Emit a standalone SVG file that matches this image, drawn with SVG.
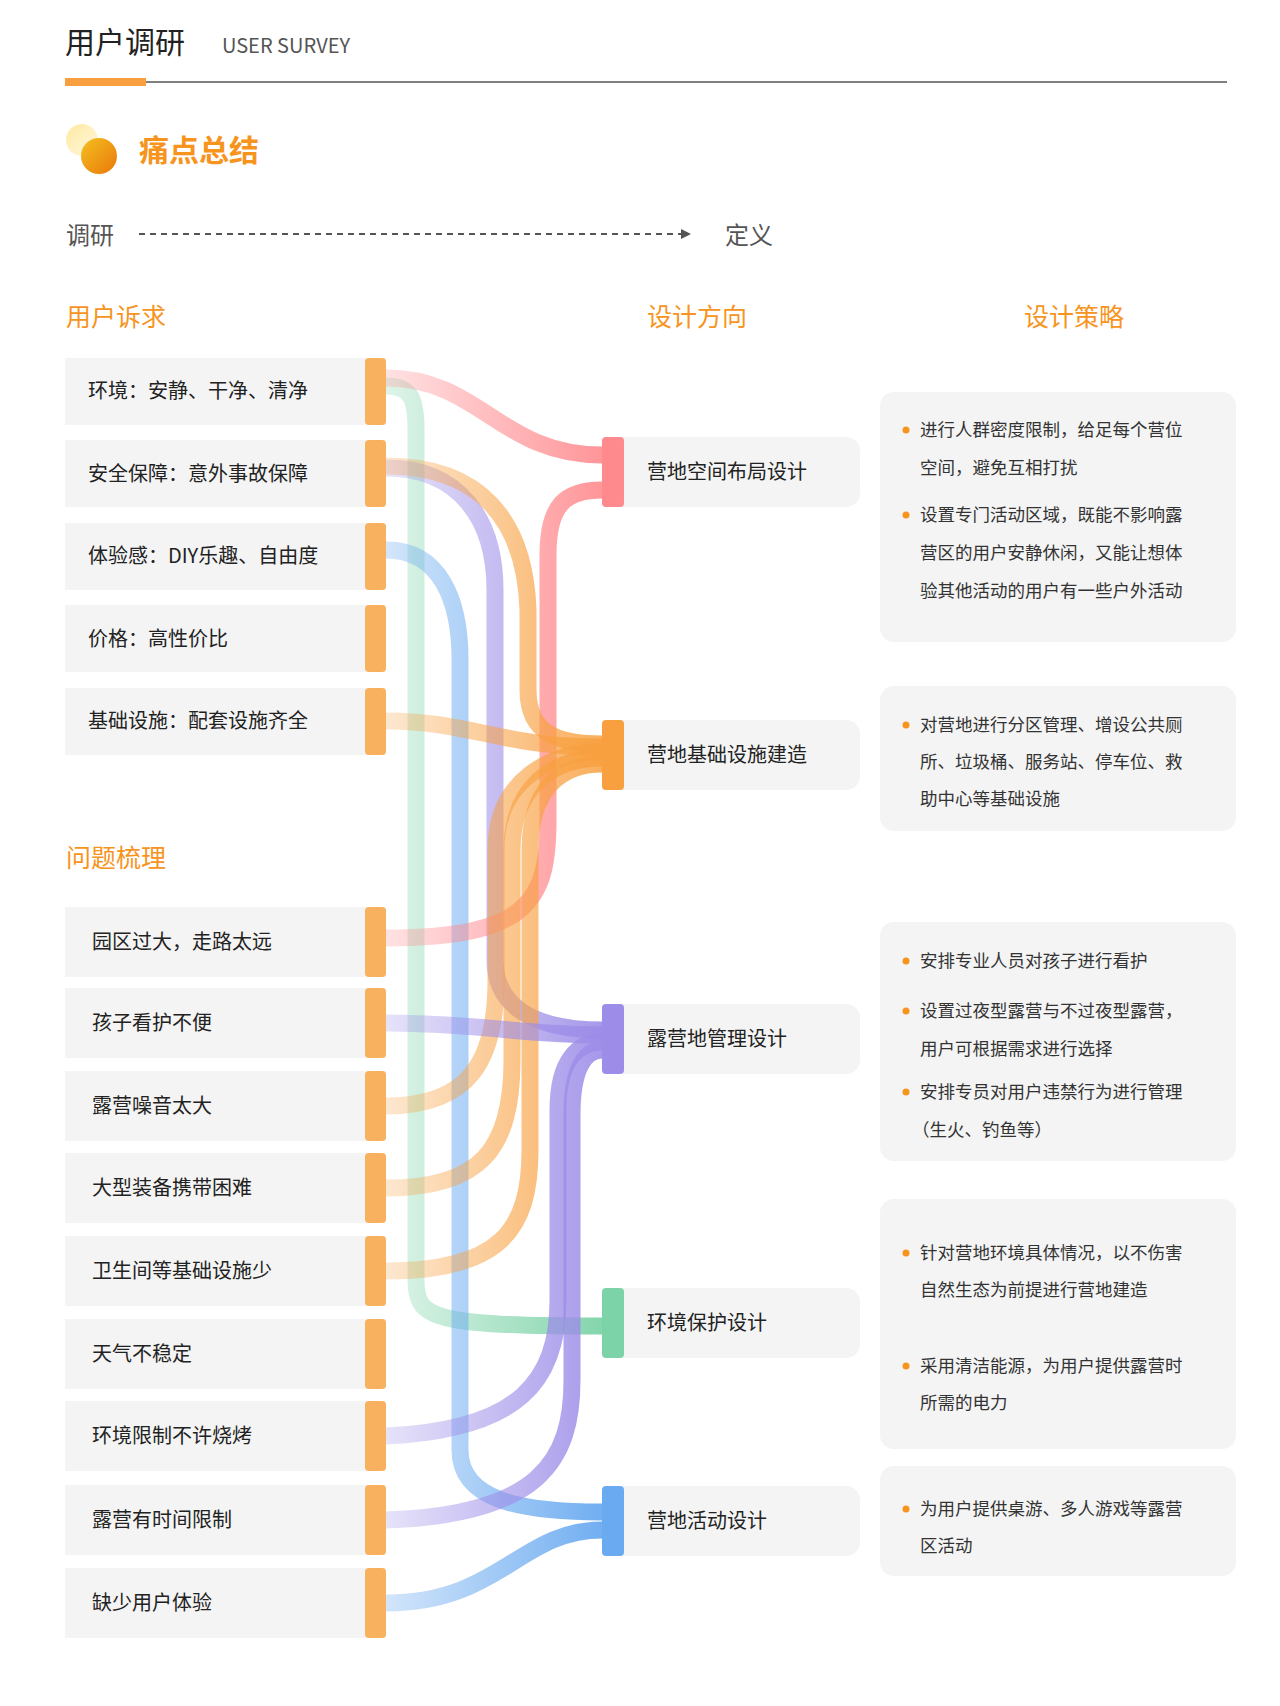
<svg xmlns="http://www.w3.org/2000/svg" width="1280" height="1706" viewBox="0 0 1280 1706">
<style>
text{font-family:"Noto Sans CJK SC","Liberation Sans",sans-serif}
.lb{fill:#f4f4f4}
.tab{fill:#F8B15E}
.lt{font-size:20px;fill:#222}
.mt{font-size:20px;fill:#222}
.st{font-size:17.5px;fill:#333}
.hd{font-size:25px;fill:#F7941D}
.dot{fill:#F7941D}
.c{fill:none;stroke-width:17;stroke-linecap:butt}
</style>
<defs>
<linearGradient id="gp" gradientUnits="userSpaceOnUse" x1="386" y1="0" x2="602" y2="0"><stop offset="0" stop-color="#FF8A8E" stop-opacity="0.25"/><stop offset="1" stop-color="#FF8A8E" stop-opacity="0.9"/></linearGradient>
<linearGradient id="go" gradientUnits="userSpaceOnUse" x1="386" y1="0" x2="602" y2="0"><stop offset="0" stop-color="#F8A040" stop-opacity="0.25"/><stop offset="1" stop-color="#F8A040" stop-opacity="0.85"/></linearGradient>
<linearGradient id="gu" gradientUnits="userSpaceOnUse" x1="386" y1="0" x2="602" y2="0"><stop offset="0" stop-color="#9D8DE8" stop-opacity="0.25"/><stop offset="1" stop-color="#9D8DE8" stop-opacity="0.9"/></linearGradient>
<linearGradient id="gg" gradientUnits="userSpaceOnUse" x1="386" y1="0" x2="602" y2="0"><stop offset="0" stop-color="#7DD3A8" stop-opacity="0.25"/><stop offset="1" stop-color="#7DD3A8" stop-opacity="0.95"/></linearGradient>
<linearGradient id="gb" gradientUnits="userSpaceOnUse" x1="386" y1="0" x2="602" y2="0"><stop offset="0" stop-color="#6AAAF0" stop-opacity="0.3"/><stop offset="1" stop-color="#6AAAF0" stop-opacity="0.95"/></linearGradient>
<linearGradient id="ic1" x1="0" y1="0" x2="1" y2="1"><stop offset="0" stop-color="#FFE9A0"/><stop offset="1" stop-color="#FFF8E0"/></linearGradient>
<linearGradient id="ic2" x1="0" y1="0" x2="1" y2="1"><stop offset="0" stop-color="#F6C020"/><stop offset="1" stop-color="#E8780A"/></linearGradient>
<marker id="ar" markerWidth="10" markerHeight="10" refX="5" refY="5" orient="auto" markerUnits="userSpaceOnUse"><path d="M0,0 L10,5 L0,10 Z" fill="#555"/></marker>
</defs>
<rect width="1280" height="1706" fill="#fff"/>
<g id="header">
<text x="65" y="53" font-size="30" fill="#222">用户调研</text>
<text x="222" y="53" font-size="20" fill="#555" font-family="Liberation Sans,sans-serif">USER SURVEY</text>
<line x1="65" y1="82" x2="1227" y2="82" stroke="#555" stroke-width="1.5"/>
<rect x="65" y="78" width="81" height="8" fill="#F8A040"/>
<circle cx="82" cy="140" r="16" fill="url(#ic1)"/>
<circle cx="99" cy="156" r="18" fill="url(#ic2)"/>
<text x="139" y="161" font-size="30" fill="#F7941D" font-weight="bold">痛点总结</text>
<text x="66" y="244" font-size="24" fill="#555">调研</text>
<line x1="139" y1="234" x2="686" y2="234" stroke="#555" stroke-width="2" stroke-dasharray="6,5" marker-end="url(#ar)"/>
<text x="725" y="244" font-size="24" fill="#555">定义</text>
<text class="hd" x="66" y="326">用户诉求</text>
<text class="hd" x="647" y="326">设计方向</text>
<text class="hd" x="1024" y="326">设计策略</text>
<text class="hd" x="66" y="867">问题梳理</text>
</g>
<g id="connectors">
<path class="c" stroke="url(#gg)" d="M386,386 C412,386 416,400 416,430 L416,1280 C416,1318 430,1326 602,1326"/>
<path class="c" stroke="url(#gb)" d="M386,550 C440,550 460,600 460,660 L460,1450 C460,1500 520,1512 602,1512"/>
<path class="c" stroke="url(#gu)" d="M386,468 C460,468 495,520 495,590 L495,960 C495,1010 540,1030 602,1030"/>
<path class="c" stroke="url(#gp)" d="M386,378 C480,378 500,455 602,455"/>
<path class="c" stroke="url(#gp)" d="M386,938 C530,938 548,900 548,820 L548,555 C548,505 565,490 602,490"/>
<path class="c" stroke="url(#go)" d="M386,466 C480,466 525,520 528,610 L528,690 C528,735 560,744 602,744"/>
<path class="c" stroke="url(#go)" d="M386,721 C470,721 500,747 602,747"/>
<path class="c" stroke="url(#go)" d="M386,1106 C470,1106 496,1060 496,980 L496,850 C496,780 550,752 602,752"/>
<path class="c" stroke="url(#go)" d="M386,1188 C480,1188 512,1150 512,1060 L512,850 C512,785 555,758 602,758"/>
<path class="c" stroke="url(#go)" d="M386,1271 C500,1271 530,1230 530,1150 L530,850 C530,790 560,764 602,764"/>
<path class="c" stroke="url(#gu)" d="M386,1023 C480,1023 520,1035 602,1035"/>
<path class="c" stroke="url(#gu)" d="M386,1436 C520,1430 558,1380 558,1300 L558,1110 C558,1060 578,1042 602,1042"/>
<path class="c" stroke="url(#gu)" d="M386,1520 C540,1515 572,1460 572,1380 L572,1115 C572,1068 585,1050 602,1050"/>
<path class="c" stroke="url(#gb)" d="M386,1603 C500,1603 520,1530 602,1530"/>
</g>
<g id="l1"><rect class="lb" x="65" y="358" width="321" height="67"/><rect class="tab" x="365" y="358" width="21" height="67" rx="4"/><text class="lt" x="88" y="398">环境：安静、干净、清净</text></g>
<g id="l2"><rect class="lb" x="65" y="440" width="321" height="67"/><rect class="tab" x="365" y="440" width="21" height="67" rx="4"/><text class="lt" x="88" y="481">安全保障：意外事故保障</text></g>
<g id="l3"><rect class="lb" x="65" y="523" width="321" height="67"/><rect class="tab" x="365" y="523" width="21" height="67" rx="4"/><text class="lt" x="88" y="563">体验感：DIY乐趣、自由度</text></g>
<g id="l4"><rect class="lb" x="65" y="605" width="321" height="67"/><rect class="tab" x="365" y="605" width="21" height="67" rx="4"/><text class="lt" x="88" y="646">价格：高性价比</text></g>
<g id="l5"><rect class="lb" x="65" y="688" width="321" height="67"/><rect class="tab" x="365" y="688" width="21" height="67" rx="4"/><text class="lt" x="88" y="728">基础设施：配套设施齐全</text></g>
<g id="p1"><rect class="lb" x="65" y="907" width="321" height="70"/><rect class="tab" x="365" y="907" width="21" height="70" rx="4"/><text class="lt" x="92" y="949">园区过大，走路太远</text></g>
<g id="p2"><rect class="lb" x="65" y="988" width="321" height="70"/><rect class="tab" x="365" y="988" width="21" height="70" rx="4"/><text class="lt" x="92" y="1030">孩子看护不便</text></g>
<g id="p3"><rect class="lb" x="65" y="1071" width="321" height="70"/><rect class="tab" x="365" y="1071" width="21" height="70" rx="4"/><text class="lt" x="92" y="1113">露营噪音太大</text></g>
<g id="p4"><rect class="lb" x="65" y="1153" width="321" height="70"/><rect class="tab" x="365" y="1153" width="21" height="70" rx="4"/><text class="lt" x="92" y="1195">大型装备携带困难</text></g>
<g id="p5"><rect class="lb" x="65" y="1236" width="321" height="70"/><rect class="tab" x="365" y="1236" width="21" height="70" rx="4"/><text class="lt" x="92" y="1278">卫生间等基础设施少</text></g>
<g id="p6"><rect class="lb" x="65" y="1319" width="321" height="70"/><rect class="tab" x="365" y="1319" width="21" height="70" rx="4"/><text class="lt" x="92" y="1361">天气不稳定</text></g>
<g id="p7"><rect class="lb" x="65" y="1401" width="321" height="70"/><rect class="tab" x="365" y="1401" width="21" height="70" rx="4"/><text class="lt" x="92" y="1443">环境限制不许烧烤</text></g>
<g id="p8"><rect class="lb" x="65" y="1485" width="321" height="70"/><rect class="tab" x="365" y="1485" width="21" height="70" rx="4"/><text class="lt" x="92" y="1527">露营有时间限制</text></g>
<g id="p9"><rect class="lb" x="65" y="1568" width="321" height="70"/><rect class="tab" x="365" y="1568" width="21" height="70" rx="4"/><text class="lt" x="92" y="1610">缺少用户体验</text></g>
<g id="m1"><rect class="lb" x="602" y="437" width="258" height="70" rx="14"/><rect x="602" y="437" width="22" height="70" rx="4" fill="#FF8A8E"/><text class="mt" x="647" y="479">营地空间布局设计</text></g>
<g id="m2"><rect class="lb" x="602" y="720" width="258" height="70" rx="14"/><rect x="602" y="720" width="22" height="70" rx="4" fill="#F8A040"/><text class="mt" x="647" y="762">营地基础设施建造</text></g>
<g id="m3"><rect class="lb" x="602" y="1004" width="258" height="70" rx="14"/><rect x="602" y="1004" width="22" height="70" rx="4" fill="#9D8DE8"/><text class="mt" x="647" y="1046">露营地管理设计</text></g>
<g id="m4"><rect class="lb" x="602" y="1288" width="258" height="70" rx="14"/><rect x="602" y="1288" width="22" height="70" rx="4" fill="#7DD3A8"/><text class="mt" x="647" y="1330">环境保护设计</text></g>
<g id="m5"><rect class="lb" x="602" y="1486" width="258" height="70" rx="14"/><rect x="602" y="1486" width="22" height="70" rx="4" fill="#6AAAF0"/><text class="mt" x="647" y="1528">营地活动设计</text></g>
<g id="s1"><rect class="lb" x="880" y="392" width="356" height="250" rx="14"/>
<circle class="dot" cx="906" cy="430" r="3.5"/><text class="st" x="920" y="436">进行人群密度限制，给足每个营位</text><text class="st" x="920" y="474">空间，避免互相打扰</text>
<circle class="dot" cx="906" cy="515" r="3.5"/><text class="st" x="920" y="521">设置专门活动区域，既能不影响露</text><text class="st" x="920" y="559">营区的用户安静休闲，又能让想体</text><text class="st" x="920" y="597">验其他活动的用户有一些户外活动</text></g>
<g id="s2"><rect class="lb" x="880" y="686" width="356" height="145" rx="14"/>
<circle class="dot" cx="906" cy="725" r="3.5"/><text class="st" x="920" y="731">对营地进行分区管理、增设公共厕</text><text class="st" x="920" y="768">所、垃圾桶、服务站、停车位、救</text><text class="st" x="920" y="805">助中心等基础设施</text></g>
<g id="s3"><rect class="lb" x="880" y="922" width="356" height="239" rx="14"/>
<circle class="dot" cx="906" cy="961" r="3.5"/><text class="st" x="920" y="967">安排专业人员对孩子进行看护</text>
<circle class="dot" cx="906" cy="1011" r="3.5"/><text class="st" x="920" y="1017">设置过夜型露营与不过夜型露营，</text><text class="st" x="920" y="1055">用户可根据需求进行选择</text>
<circle class="dot" cx="906" cy="1092" r="3.5"/><text class="st" x="920" y="1098">安排专员对用户违禁行为进行管理</text><text class="st" x="912" y="1136">（生火、钓鱼等）</text></g>
<g id="s4"><rect class="lb" x="880" y="1199" width="356" height="250" rx="14"/>
<circle class="dot" cx="906" cy="1253" r="3.5"/><text class="st" x="920" y="1259">针对营地环境具体情况，以不伤害</text><text class="st" x="920" y="1296">自然生态为前提进行营地建造</text>
<circle class="dot" cx="906" cy="1366" r="3.5"/><text class="st" x="920" y="1372">采用清洁能源，为用户提供露营时</text><text class="st" x="920" y="1409">所需的电力</text></g>
<g id="s5"><rect class="lb" x="880" y="1466" width="356" height="110" rx="14"/>
<circle class="dot" cx="906" cy="1509" r="3.5"/><text class="st" x="920" y="1515">为用户提供桌游、多人游戏等露营</text><text class="st" x="920" y="1552">区活动</text></g>
</svg>
